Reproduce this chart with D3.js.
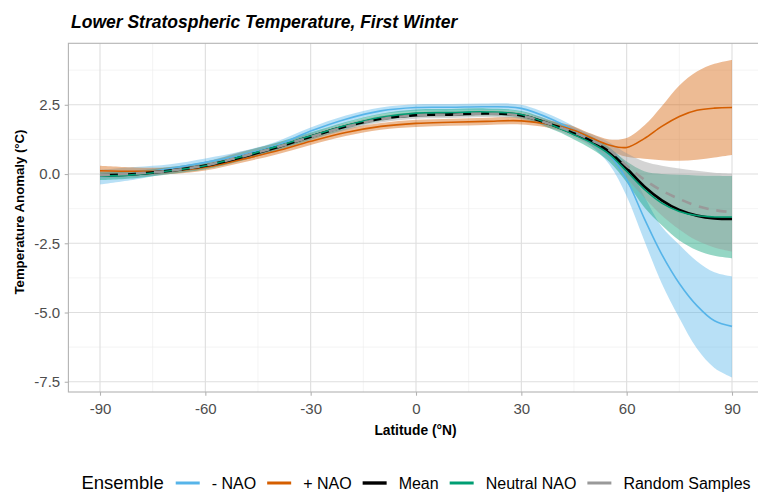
<!DOCTYPE html>
<html><head><meta charset="utf-8">
<script src="https://cdn.jsdelivr.net/npm/d3@7"></script>
<style>body{margin:0;background:#fff} svg{display:block;font-family:"Liberation Sans",Arial,Helvetica,sans-serif}</style>
</head><body><svg id="c" width="758" height="492"></svg>
<script>
// ---- data ----
const latitudes = [-90,-80,-70,-60,-50,-40,-30,-20,-10,0,10,20,30,40,45,50,55,60,65,70,75,80,85,90];

const negNAO      = [-0.1,0.02,0.2,0.42,0.68,1.02,1.55,1.98,2.28,2.4,2.41,2.43,2.37,1.9,1.58,1.2,0.7,-0.2,-1.6,-2.9,-3.95,-4.75,-5.3,-5.5];
const negNAOLow   = [-0.38,-0.2,0.05,0.28,0.55,0.88,1.42,1.85,2.16,2.28,2.29,2.31,2.24,1.76,1.42,1.0,0.35,-0.8,-2.4,-3.95,-5.2,-6.3,-7.0,-7.34];
const negNAOHigh  = [0.15,0.25,0.35,0.56,0.81,1.16,1.68,2.11,2.4,2.52,2.53,2.55,2.5,2.04,1.72,1.36,0.98,0.35,-0.8,-1.9,-2.55,-3.15,-3.55,-3.7];

const posNAO      = [0.12,0.1,0.12,0.25,0.52,0.82,1.18,1.5,1.72,1.83,1.87,1.9,1.92,1.75,1.58,1.3,1.05,0.96,1.28,1.72,2.08,2.3,2.38,2.4];
const posNAOLow   = [-0.02,-0.02,0.0,0.13,0.4,0.7,1.05,1.37,1.6,1.7,1.74,1.77,1.79,1.62,1.44,1.15,0.85,0.62,0.55,0.5,0.48,0.52,0.6,0.69];
const posNAOHigh  = [0.3,0.24,0.24,0.37,0.64,0.94,1.3,1.63,1.84,1.96,2.0,2.03,2.05,1.88,1.72,1.45,1.25,1.3,1.75,2.45,3.2,3.7,3.98,4.12];

const meanAll     = [-0.05,0.0,0.12,0.3,0.6,0.95,1.35,1.72,2.0,2.13,2.15,2.19,2.12,1.72,1.46,1.18,0.8,0.2,-0.45,-0.95,-1.3,-1.5,-1.6,-1.62];

const neutralNAO  = [-0.08,-0.02,0.12,0.3,0.62,0.98,1.37,1.75,2.05,2.2,2.22,2.24,2.15,1.7,1.42,1.12,0.72,0.1,-0.55,-1.05,-1.35,-1.5,-1.55,-1.55];
const neutralLow  = [-0.22,-0.15,0.0,0.17,0.47,0.84,1.24,1.62,1.92,2.07,2.09,2.11,2.02,1.55,1.25,0.9,0.45,-0.3,-1.2,-1.85,-2.4,-2.75,-2.95,-3.04];
const neutralHigh = [0.06,0.11,0.25,0.44,0.78,1.12,1.5,1.88,2.18,2.33,2.35,2.37,2.28,1.85,1.6,1.35,0.95,0.45,0.1,0.0,-0.03,-0.05,-0.06,-0.07];

const randomS     = [-0.04,0.02,0.12,0.31,0.62,0.96,1.34,1.7,1.98,2.12,2.14,2.18,2.1,1.73,1.5,1.22,0.88,0.3,-0.2,-0.6,-0.9,-1.15,-1.3,-1.38];
const randomLow   = [-0.16,-0.1,0.0,0.19,0.48,0.82,1.22,1.58,1.86,2.0,2.02,2.06,1.98,1.58,1.33,1.0,0.58,-0.15,-0.85,-1.5,-2.0,-2.4,-2.65,-2.8];
const randomHigh  = [0.08,0.14,0.25,0.44,0.8,1.1,1.46,1.82,2.1,2.24,2.26,2.3,2.22,1.88,1.67,1.44,1.15,0.75,0.45,0.3,0.2,0.12,0.05,0.02];

const groupNames = ["- NAO","+ NAO","Mean","Neutral NAO","Random Samples"];
const xTicks = [-90,-60,-30,0,30,60,90];
const xMinor = [-75,-45,-15,15,45,75];
const yTicks = [-7.5,-5.0,-2.5,0.0,2.5];
const yMinor = [-6.25,-3.75,-1.25,1.25,3.75];

// ---- build ----
const colors = {"- NAO":"#56B4E9","+ NAO":"#D55E00","Mean":"#000000","Neutral NAO":"#009E73","Random Samples":"#999999"};
const series = [
  {name:"- NAO", mid:negNAO, lo:negNAOLow, hi:negNAOHigh},
  {name:"+ NAO", mid:posNAO, lo:posNAOLow, hi:posNAOHigh},
  {name:"Mean", mid:meanAll},
  {name:"Neutral NAO", mid:neutralNAO, lo:neutralLow, hi:neutralHigh},
  {name:"Random Samples", mid:randomS, lo:randomLow, hi:randomHigh}
];

const svg = d3.select("#c");
const x = d3.scaleLinear().domain([-99,99]).range([68.4,763.6]);
const y = d3.scaleLinear().domain([-7.87,4.72]).range([392,43.3]);
const L = x.range()[0], R = x.range()[1], T = y.range()[1], B = y.range()[0];

const grid = svg.append("g");
xMinor.forEach(v=>grid.append("line").attr("x1",x(v)).attr("x2",x(v)).attr("y1",T).attr("y2",B).attr("stroke","#ececec").attr("stroke-width",0.6));
yMinor.forEach(v=>grid.append("line").attr("y1",y(v)).attr("y2",y(v)).attr("x1",L).attr("x2",R).attr("stroke","#ececec").attr("stroke-width",0.6));
xTicks.forEach(v=>grid.append("line").attr("x1",x(v)).attr("x2",x(v)).attr("y1",T).attr("y2",B).attr("stroke","#dedede").attr("stroke-width",1.1));
yTicks.forEach(v=>grid.append("line").attr("y1",y(v)).attr("y2",y(v)).attr("x1",L).attr("x2",R).attr("stroke","#dedede").attr("stroke-width",1.1));

const curve = d3.curveCatmullRom.alpha(0.5);
const area = d3.area().x(d=>x(d.lat)).y0(d=>y(d.lo)).y1(d=>y(d.hi)).curve(curve);
const line = d3.line().x(d=>x(d.lat)).y(d=>y(d.v)).curve(curve);

const bands = svg.append("g");
series.filter(s=>s.lo).forEach(s=>{
  const pts = latitudes.map((lat,i)=>({lat, lo:s.lo[i], hi:s.hi[i]}));
  bands.append("path").attr("d",area(pts)).attr("fill",colors[s.name]).attr("fill-opacity",0.42);
});
const lines = svg.append("g").attr("fill","none");
series.forEach(s=>{
  const pts = latitudes.map((lat,i)=>({lat, v:s.mid[i]}));
  const p = lines.append("path").attr("d",line(pts)).attr("stroke",colors[s.name]);
  if(s.name==="Mean") p.attr("stroke-width",2.8);
  else if(s.name==="Random Samples") p.attr("stroke-width",2.6).attr("stroke-dasharray","10,8");
  else p.attr("stroke-width",1.6);
});

// panel border
svg.append("rect").attr("x",L).attr("y",T).attr("width",R-L).attr("height",B-T).attr("fill","none").attr("stroke","#b3b3b3").attr("stroke-width",1.1);

// axes (hyphen-minus as in the reference)
const fmtX = d => String(d3.format("d")(d)).replace("\u2212","-");
const fmtY = d => String(d3.format(".1f")(d)).replace("\u2212","-");
const ax = svg.append("g").attr("transform",`translate(0,${B})`).call(d3.axisBottom(x).tickValues(xTicks).tickSize(3.7).tickPadding(7.5).tickFormat(fmtX));
const ay = svg.append("g").attr("transform",`translate(${L},0)`).call(d3.axisLeft(y).tickValues(yTicks).tickSize(3.7).tickPadding(4.5).tickFormat(fmtY));
[ax,ay].forEach(a=>{
  a.select(".domain").remove();
  a.attr("font-family",null).attr("font-size",15);
  a.selectAll(".tick line").attr("stroke","#b3b3b3").attr("stroke-width",1.1);
  a.selectAll(".tick text").attr("fill","#4d4d4d");
});

// titles
svg.append("text").attr("x",71).attr("y",28).attr("font-size",17.5).attr("font-weight","bold").attr("font-style","italic").text("Lower Stratospheric Temperature, First Winter");
svg.append("text").attr("x",(L+R)/2 - 0.5).attr("y",435).attr("text-anchor","middle").attr("font-size",13.8).attr("font-weight","bold").text("Latitude (°N)");
svg.append("text").attr("transform","translate(23.5,212) rotate(-90)").attr("text-anchor","middle").attr("font-size",13.2).attr("font-weight","bold").text("Temperature Anomaly (°C)");

// legend
const leg = svg.append("g");
const ly = 488.5, ky = 483;
const titleT = leg.append("text").attr("y",ly).attr("font-size",18.5).text("Ensemble");
let items = groupNames.map(n=>{
  const g = leg.append("g");
  g.append("line").attr("x1",0).attr("x2",24).attr("y1",ky).attr("y2",ky).attr("stroke",colors[n]).attr("stroke-width",n==="Mean"?3.4:3);
  const t = g.append("text").attr("x",36).attr("y",ly).attr("font-size",16).text(n);
  return {g, w:36+t.node().getComputedTextLength()};
});
const tw = titleT.node().getComputedTextLength();
const gapT = 12, gapI = 11;
let total = tw + gapT + d3.sum(items,d=>d.w) + gapI*(items.length-1);
let cx = (L+R)/2 - total/2;
titleT.attr("x",cx);
cx += tw + gapT;
items.forEach(it=>{ it.g.attr("transform",`translate(${cx},0)`); cx += it.w + gapI; });
</script></body></html>
